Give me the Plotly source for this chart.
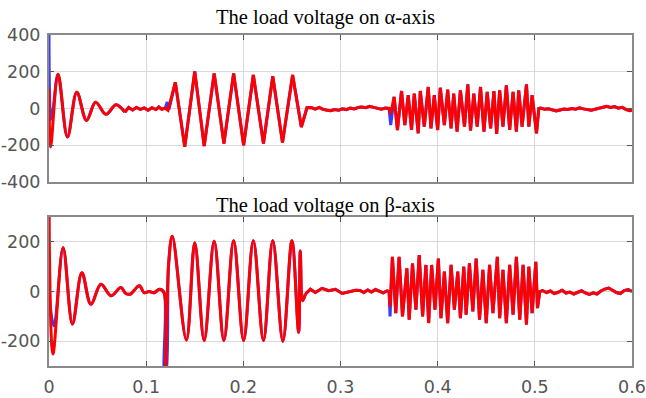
import plotly.graph_objects as go

# ---------------- data ----------------
x_ticks = [0, 0.1, 0.2, 0.3, 0.4, 0.5, 0.6]
x_tick_labels = ["0", "0.1", "0.2", "0.3", "0.4", "0.5", "0.6"]
alpha_ticks = [-400, -200, 0, 200, 400]
alpha_tick_labels = ["-400", "-200", "0", "200", "400"]
beta_ticks = [-200, 0, 200]
beta_tick_labels = ["-200", "0", "200"]
title_alpha = "The load voltage on α-axis"
title_beta = "The load voltage on β-axis"

# alpha-axis, red (measured) trace, piece by piece
alpha_start_t = [0, 0.0017, 0.0093, 0.019, 0.0286, 0.0386, 0.048, 0.0586, 0.069, 0.078]
alpha_start_v = [108, -209, 187, -155, 88, -65, 34, -32, 20, -20]
alpha_quiet1_t = [0.082, 0.086, 0.090, 0.094, 0.098, 0.102, 0.106, 0.110, 0.113, 0.116, 0.119, 0.1225]
alpha_quiet1_v = [5, -8, 6, -5, 3, -10, 4, -6, 8, -4, 2, -10]
alpha_burst1_t = [0.130, 0.1397, 0.150, 0.1597, 0.170, 0.180, 0.190, 0.2003, 0.2103, 0.2207,
                  0.2303, 0.2403, 0.2507, 0.2597, 0.2655]
alpha_burst1_v = [142, -209, 202, -205, 191, -191, 191, -200, 182, -191, 175, -186, 182, -101, 4]
alpha_quiet2_t = [0.270, 0.274, 0.278, 0.282, 0.286, 0.290, 0.294, 0.298, 0.302, 0.306,
                  0.310, 0.314, 0.318, 0.322, 0.326, 0.330, 0.334, 0.338, 0.342, 0.346]
alpha_quiet2_v = [5, -3, 6, -5, -10, -12, -6, -10, -2, -6, 2, -3, 5, 8, 4, 12, 6, 3, -4, 2]
alpha_burst2_t = [0.3500, 0.3517, 0.3552, 0.3586, 0.3628, 0.3662, 0.3697, 0.3731, 0.3759, 0.3800,
                  0.3821, 0.3862, 0.3903, 0.3931, 0.3965, 0.4000, 0.4027, 0.4069, 0.4103, 0.4138,
                  0.4165, 0.4200, 0.4234, 0.4276, 0.4310, 0.4338, 0.4372, 0.4407, 0.4441, 0.4476,
                  0.4510, 0.4545, 0.4579, 0.4607, 0.4638, 0.4672, 0.4707, 0.4741, 0.4776, 0.4810,
                  0.4834, 0.4869, 0.4914, 0.4938, 0.4972, 0.5017, 0.5041]
alpha_burst2_v = [0, -30, 63, -117, 95, -90, 72, -117, 81, -135,
                  95, -99, 117, -108, 72, -117, 113, -90, 103, -108,
                  81, -126, 99, -99, 131, -120, 81, -99, 117, -126,
                  90, -108, 95, -139, 99, -99, 126, -117, 90, -126,
                  99, -99, 131, -99, 72, -135, 0]
alpha_quiet3_t = [0.506, 0.510, 0.514, 0.518, 0.522, 0.526, 0.530, 0.534, 0.538, 0.542,
                  0.546, 0.550, 0.554, 0.558, 0.562, 0.566, 0.570, 0.574, 0.578, 0.582,
                  0.586, 0.590, 0.594, 0.598, 0.600]
alpha_quiet3_v = [2, -4, -2, -10, -14, -8, -3, -5, 0, -4, 3, -2, -6, -10, -4, 2, 8, 12, 6, 10,
                  2, 6, -6, -12, -10]

# alpha-axis, blue (reference) trace: where it departs from the red one
alpha_blue_dev = [
    ([0, 0.0005, 0.0017, 0.004], [400, 100, -60, -10]),
    ([0.1195, 0.1217, 0.1235], [0, 35, -5]),
    ([0.3517], [-90]),
]

# beta-axis, red (measured) trace
beta_start_t = [0, 0.0041, 0.0145, 0.0241, 0.0338, 0.0431, 0.0535, 0.0638, 0.074, 0.079,
                0.084, 0.0866, 0.0931, 0.098, 0.103, 0.108, 0.1138, 0.1183, 0.1197, 0.1231,
                0.1269, 0.1414, 0.150, 0.1597, 0.170, 0.180, 0.190, 0.2003, 0.2103, 0.2207,
                0.2303, 0.2407, 0.2500, 0.2569, 0.2586, 0.261, 0.2638]
beta_start_v = [340, -252, 176, -131, 76, -51, 29, -17, 16, -8,
                -10, 0, 23, -5, 0, -5, 9, -4, -340, 110,
                223, -195, 196, -197, 203, -197, 205, -197, 205, -197,
                205, -200, 205, -164, 163, -37, -11]
beta_quiet2_t = [0.269, 0.2741, 0.281, 0.2879, 0.2948, 0.3017, 0.3086, 0.3155, 0.320, 0.324,
                 0.328, 0.332, 0.336, 0.340, 0.344, 0.348]
beta_quiet2_v = [9, -4, 13, 3, 9, -8, 0, 5, 4, -4, 6, -2, 8, 2, -5, 3]
beta_burst2_t = [0.3500, 0.3510, 0.3534, 0.3569, 0.3603, 0.3638, 0.3683, 0.3707, 0.3741, 0.3776,
                 0.3810, 0.3845, 0.3879, 0.3907, 0.3938, 0.3972, 0.4007, 0.4034, 0.4069, 0.4103,
                 0.4138, 0.4172, 0.4207, 0.4234, 0.4269, 0.4293, 0.4327, 0.4362, 0.4396, 0.4431,
                 0.4465, 0.4500, 0.4534, 0.4569, 0.4614, 0.4638, 0.4672, 0.4707, 0.4741, 0.4776,
                 0.4810, 0.4845, 0.4879, 0.4914, 0.4938, 0.4972, 0.5010, 0.5027, 0.5051]
beta_burst2_v = [0, -60, 140, -87, 140, -100, 93, -113, 113, -73,
                 147, -100, 107, -127, 107, -73, 133, -107, 80, -127,
                 107, -73, 80, -107, 100, -93, 113, -80, 133, -113,
                 87, -127, 107, -87, 140, -107, 87, -127, 107, -93,
                 140, -113, 107, -133, 100, -87, 120, -67, 0]
beta_quiet3_t = [0.508, 0.512, 0.516, 0.520, 0.524, 0.528, 0.532, 0.536, 0.540, 0.544,
                 0.548, 0.552, 0.556, 0.560, 0.564, 0.568, 0.572, 0.576, 0.580, 0.584,
                 0.588, 0.592, 0.596, 0.600]
beta_quiet3_v = [4, -4, 2, -8, -3, 5, -6, -2, -10, -4, 3, -6, -12, -5, -10, 2, 10, 14, 4, -4,
                 -8, 4, 8, 0]

beta_blue_dev = [
    ([0, 0.0006, 0.0052], [340, -30, -139]),
    ([0.1188, 0.1200], [-340, -340]),
    ([0.3510], [-100]),
]

# ---------------- assemble series ----------------
alpha_red_t = alpha_start_t + alpha_quiet1_t + alpha_burst1_t + alpha_quiet2_t + alpha_burst2_t + alpha_quiet3_t
alpha_red_v = alpha_start_v + alpha_quiet1_v + alpha_burst1_v + alpha_quiet2_v + alpha_burst2_v + alpha_quiet3_v
beta_red_t = beta_start_t + beta_quiet2_t + beta_burst2_t + beta_quiet3_t
beta_red_v = beta_start_v + beta_quiet2_v + beta_burst2_v + beta_quiet3_v


def build_blue(red_t, red_v, devs):
    spans = [(min(t), max(t)) for t, _ in devs]
    pts = [(t, v) for t, v in zip(red_t, red_v) if not any(a <= t <= b for a, b in spans)]
    for dt, dv in devs:
        pts.extend(zip(dt, dv))
    pts.sort(key=lambda p: p[0])
    return [p[0] for p in pts], [p[1] for p in pts]


alpha_blue_t, alpha_blue_v = build_blue(alpha_red_t, alpha_red_v, alpha_blue_dev)
beta_blue_t, beta_blue_v = build_blue(beta_red_t, beta_red_v, beta_blue_dev)

RED = "#ff0000"
BLUE = "#3a3aff"
GRID = "#d9d9d9"
BORDER = "#8a8a8a"
TICKFONT = dict(family="DejaVu Sans, sans-serif", size=17.5, color="#555555")
ALPHA_SMOOTH_END = 0.078   # damped oscillation at the start of the alpha trace
BETA_SMOOTH_END = 0.2638   # smooth oscillation part of the beta trace

fig = go.Figure()


def add(t, v, color, width, xa, ya, shape="linear"):
    fig.add_trace(go.Scatter(x=t, y=v, mode="lines", xaxis=xa, yaxis=ya,
                             line=dict(color=color, width=width, shape=shape),
                             hoverinfo="skip", showlegend=False))


def add_split(tt, vv, color, width, xa, ya, split):
    a_t = [t for t in tt if t <= split]
    a_v = [v for t, v in zip(tt, vv) if t <= split]
    b_t = [t for t in tt if t >= split]
    b_v = [v for t, v in zip(tt, vv) if t >= split]
    add(a_t, a_v, color, width, xa, ya, shape="spline")
    add(b_t, b_v, color, width, xa, ya)


add_split(alpha_blue_t, alpha_blue_v, BLUE, 3, "x", "y", ALPHA_SMOOTH_END)
add_split(alpha_red_t, alpha_red_v, RED, 3, "x", "y", ALPHA_SMOOTH_END)
add_split(beta_blue_t, beta_blue_v, BLUE, 3, "x2", "y2", BETA_SMOOTH_END)
add_split(beta_red_t, beta_red_v, RED, 3, "x2", "y2", BETA_SMOOTH_END)

axis_common = dict(showgrid=True, gridcolor=GRID, gridwidth=1.3, zeroline=False,
                   showline=True, linecolor=BORDER, linewidth=2, mirror="ticks",
                   ticks="inside", ticklen=5, tickcolor="#555555", tickwidth=1,
                   tickfont=TICKFONT, automargin=False)

fig.update_layout(
    width=646, height=398,
    margin=dict(l=49, r=14, t=35, b=32),
    paper_bgcolor="white", plot_bgcolor="white",
    xaxis=dict(domain=[0, 1], anchor="y", range=[0, 0.6], tickvals=x_ticks,
               ticktext=x_tick_labels, showticklabels=False, **axis_common),
    yaxis=dict(domain=[0.556, 1], anchor="x", range=[-400, 400], tickvals=alpha_ticks,
               ticktext=alpha_tick_labels, ticklabelstandoff=3, **axis_common),
    xaxis2=dict(domain=[0, 1], anchor="y2", range=[0, 0.6], tickvals=x_ticks,
                ticktext=x_tick_labels, ticklabelstandoff=4, **axis_common),
    yaxis2=dict(domain=[0, 0.450], anchor="x2", range=[-300, 300], tickvals=beta_ticks,
                ticktext=beta_tick_labels, ticklabelstandoff=3, **axis_common),
    annotations=[
        dict(text=title_alpha, xref="paper", yref="paper", x=0.475, y=1.053,
             xanchor="center", yanchor="middle", showarrow=False,
             font=dict(family="Liberation Serif, Times New Roman, serif", size=20.5, color="black")),
        dict(text=title_beta, xref="paper", yref="paper", x=0.475, y=0.486,
             xanchor="center", yanchor="middle", showarrow=False,
             font=dict(family="Liberation Serif, Times New Roman, serif", size=20.5, color="black")),
    ],
)

fig.write_html("out.html")
